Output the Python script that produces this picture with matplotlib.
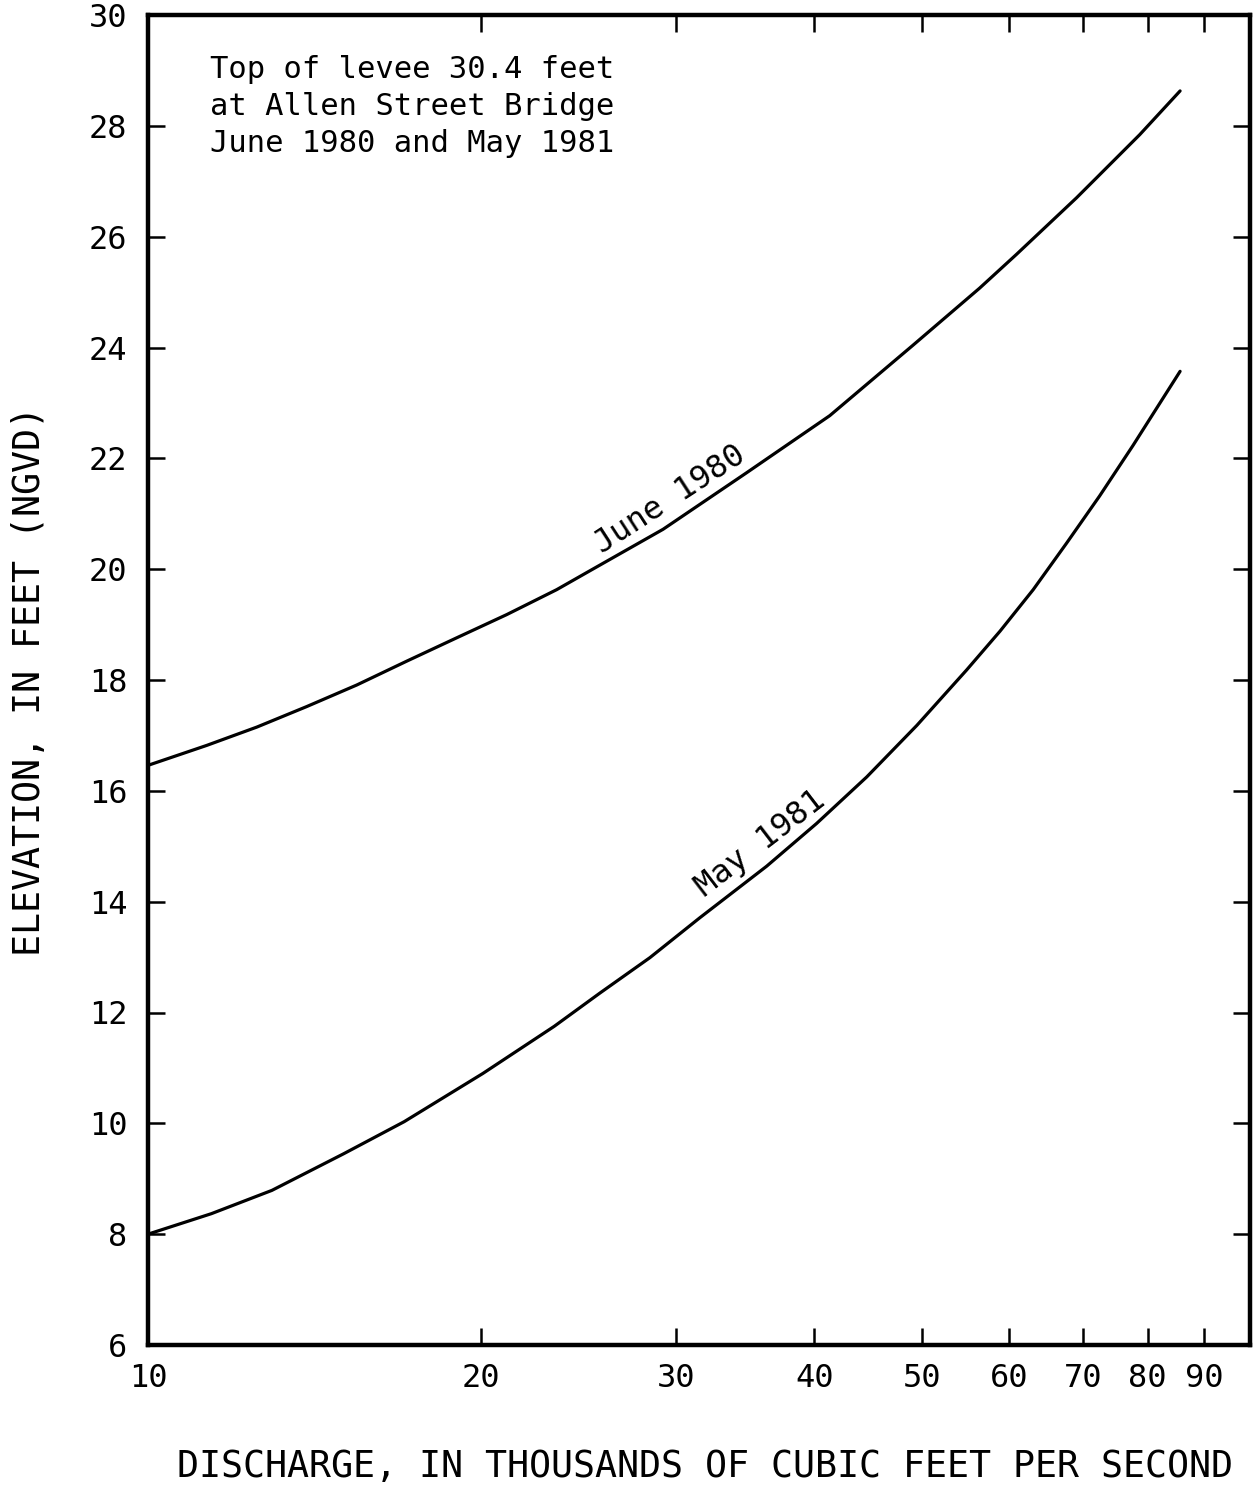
import matplotlib
matplotlib.use("Agg")
import matplotlib.pyplot as plt
from matplotlib.ticker import FixedLocator, FixedFormatter, NullLocator

# ---- data ----
june_x = [10, 11.30, 12.54, 13.91, 15.44, 17.13, 19.0, 21.09, 23.4, 25.07, 29.2, 34.74,
          41.3, 49.1, 56.4, 60.9, 69.0, 78.7, 85.6]
june_y = [16.46, 16.82, 17.15, 17.52, 17.91, 18.34, 18.76, 19.18, 19.63, 19.97, 20.72, 21.74,
          22.77, 24.04, 25.07, 25.68, 26.70, 27.84, 28.63]

may_x = [10, 11.41, 12.94, 15.02, 17.04, 20.07, 23.28, 25.6, 28.41, 31.52, 36.22, 40.18,
         44.6, 49.5, 54.9, 58.85, 63.06, 67.6, 72.4, 77.6, 81.5, 85.6]
may_y = [8.00, 8.37, 8.79, 9.45, 10.03, 10.90, 11.75, 12.35, 12.99, 13.71, 14.64, 15.41,
         16.25, 17.18, 18.18, 18.88, 19.63, 20.47, 21.32, 22.23, 22.90, 23.57]

x_ticks = [10, 20, 30, 40, 50, 60, 70, 80, 90]
x_tick_labels = ["10", "20", "30", "40", "50", "60", "70", "80", "90"]
y_ticks = [6, 8, 10, 12, 14, 16, 18, 20, 22, 24, 26, 28, 30]
y_tick_labels = [str(v) for v in y_ticks]

note_text = "Top of levee 30.4 feet\nat Allen Street Bridge\nJune 1980 and May 1981"
x_label = "DISCHARGE, IN THOUSANDS OF CUBIC FEET PER SECOND"
y_label = "ELEVATION, IN FEET (NGVD)"

plt.rcParams["font.family"] = ["DejaVu Sans Mono", "DejaVu Sans"]

fig = plt.figure(figsize=(12.56, 14.85), dpi=100)
ax = fig.add_axes([148 / 1256, 1 - 1345 / 1485, (1250 - 148) / 1256, (1345 - 15) / 1485])

ax.plot(june_x, june_y, color="black", lw=2.3, solid_capstyle="round", solid_joinstyle="round")
ax.plot(may_x, may_y, color="black", lw=2.3, solid_capstyle="round", solid_joinstyle="round")

ax.set_xscale("log")
ax.set_xlim(10, 99)
ax.set_ylim(6, 30)

ax.xaxis.set_major_locator(FixedLocator(x_ticks))
ax.xaxis.set_major_formatter(FixedFormatter(x_tick_labels))
ax.xaxis.set_minor_locator(NullLocator())
ax.yaxis.set_major_locator(FixedLocator(y_ticks))
ax.yaxis.set_major_formatter(FixedFormatter(y_tick_labels))

ax.tick_params(axis="both", which="major", direction="in", length=12, width=1.8,
               labelsize=23, top=True, right=True, color="black")
ax.tick_params(axis="x", pad=13)
ax.tick_params(axis="y", pad=15)

for s in ax.spines.values():
    s.set_linewidth(3.2)
    s.set_color("black")

ax.text(0.056, 0.970, note_text, transform=ax.transAxes, ha="left", va="top",
        fontsize=22, linespacing=1.36)

ax.text(29.6, 21.26, "June 1980", rotation=33, ha="center", va="center",
        fontsize=23, rotation_mode="anchor")
ax.text(35.8, 15.05, "May 1981", rotation=37.5, ha="center", va="center",
        fontsize=23, rotation_mode="anchor")

fig.text(705 / 1256, 1 - 1467 / 1485, x_label, ha="center", va="center", fontsize=26.4)
fig.text(30 / 1256, 1 - 681 / 1485, y_label, ha="center", va="center", rotation=90, fontsize=26.4)

fig.savefig("out.png", dpi=100, facecolor="white")
